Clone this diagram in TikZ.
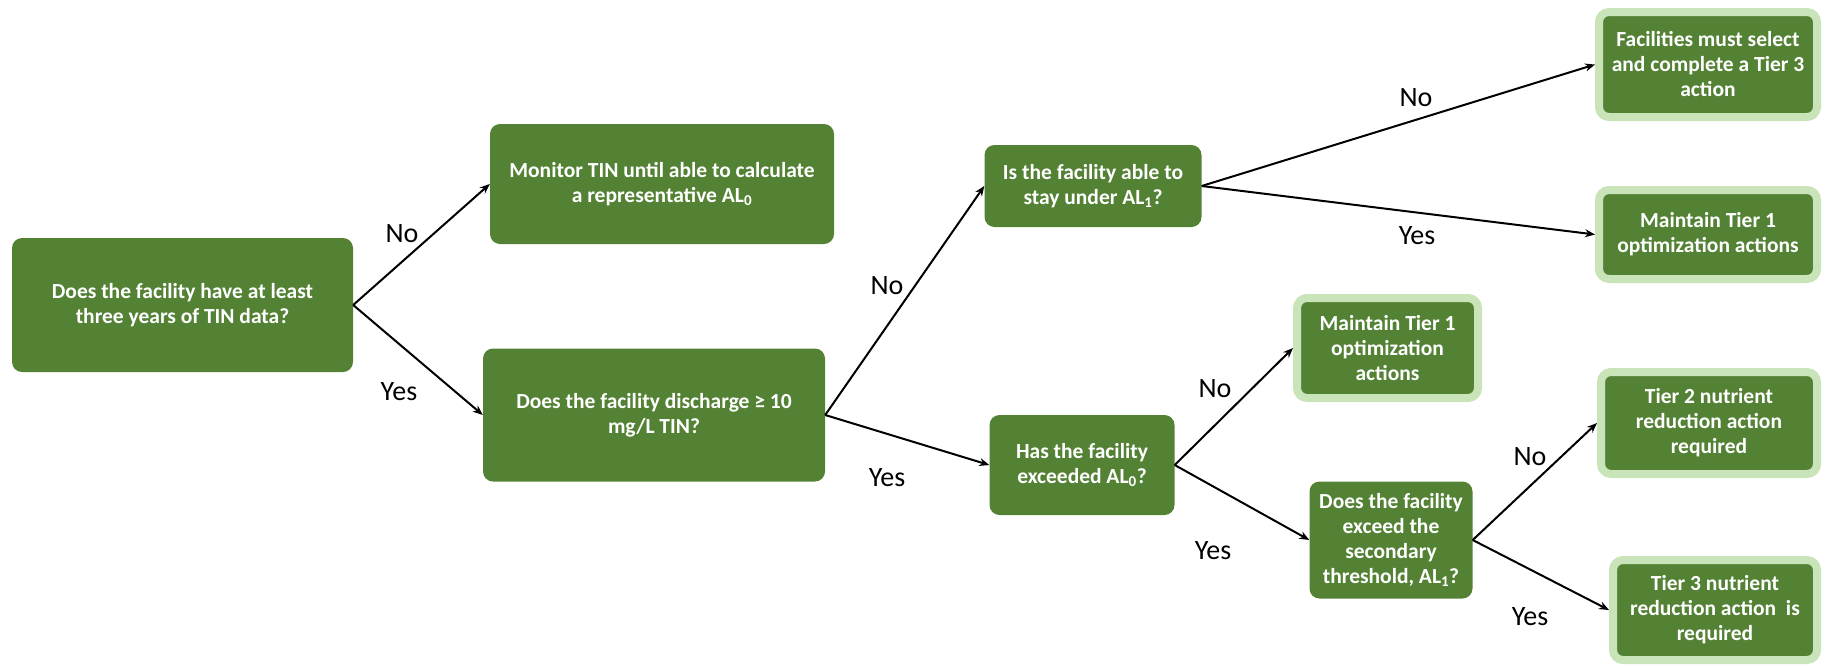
\documentclass[tikz,border=0pt]{standalone}
\usepackage{fontspec}
\setmainfont{Carlito}
\usetikzlibrary{arrows.meta}
\definecolor{boxgreen}{RGB}{84,130,53}
\definecolor{glow}{RGB}{200,228,184}
\begin{document}
\begin{tikzpicture}[x=1pt,y=1pt,
  box/.style={fill=boxgreen, rounded corners=10pt, text=white, align=center, inner sep=0pt, font=\bfseries\fontsize{21.5}{25}\selectfont},
  lbox/.style={box, draw=glow, line width=8pt},
  arr/.style={-{Stealth[length=10pt,width=8pt]}, line width=2pt},
  lab/.style={font=\fontsize{28}{32}\selectfont}]
\useasboundingbox (0,0) rectangle (1847,-665);
\node[box, minimum width=341, minimum height=134] (A) at (182.5,-305) {Does the facility have at least\\three years of TIN data?};
\node[box, minimum width=344, minimum height=120] (B) at (662,-184) {Monitor TIN until able to calculate\\a representative AL\textsubscript{0}};
\node[box, minimum width=342, minimum height=133] (C) at (654,-415) {Does the facility discharge ≥ 10\\mg/L TIN?};
\node[box, minimum width=217, minimum height=82] (D) at (1093,-186) {Is the facility able to\\stay under AL\textsubscript{1}?};
\node[box, minimum width=185, minimum height=100] (E) at (1082,-465) {Has the facility\\exceeded AL\textsubscript{0}?};
\node[lbox, minimum width=181, minimum height=100] (F) at (1387.5,-348) {Maintain Tier 1\\optimization\\actions};
\node[box, minimum width=163, minimum height=117] (G) at (1391,-540) {Does the facility\\exceed the\\secondary\\threshold, AL\textsubscript{1}?};
\node[lbox, minimum width=218, minimum height=105] (H) at (1708,-64.5) {Facilities must select\\and complete a Tier 3\\action};
\node[lbox, minimum width=218, minimum height=89] (I) at (1708,-234.5) {Maintain Tier 1\\optimization actions};
\node[lbox, minimum width=216, minimum height=102] (J) at (1709,-423) {Tier 2 nutrient\\reduction action\\required};
\node[lbox, minimum width=204, minimum height=100] (K) at (1715,-610) {Tier 3 nutrient\\reduction action\ \ is\\required};
\draw[arr] (A.east) -- (B.west);
\draw[arr] (A.east) -- (C.west);
\draw[arr] (C.east) -- (D.west);
\draw[arr] (C.east) -- (E.west);
\draw[arr] (D.east) -- (H.west);
\draw[arr] (D.east) -- (I.west);
\draw[arr] (E.east) -- (F.west);
\draw[arr] (E.east) -- (G.west);
\draw[arr] (G.east) -- (J.west);
\draw[arr] (G.east) -- (K.west);
\node[lab] (l1) at (402,-234) {No};
\node[lab] (l2) at (399,-392) {Yes};
\node[lab] (l3) at (887,-286) {No};
\node[lab] (l4) at (887,-478) {Yes};
\node[lab] (l5) at (1416,-98) {No};
\node[lab] (l6) at (1417,-236) {Yes};
\node[lab] (l7) at (1215,-389) {No};
\node[lab] (l8) at (1213,-551) {Yes};
\node[lab] (l9) at (1530,-457) {No};
\node[lab] (l10) at (1530,-617) {Yes};
\end{tikzpicture}
\end{document}
